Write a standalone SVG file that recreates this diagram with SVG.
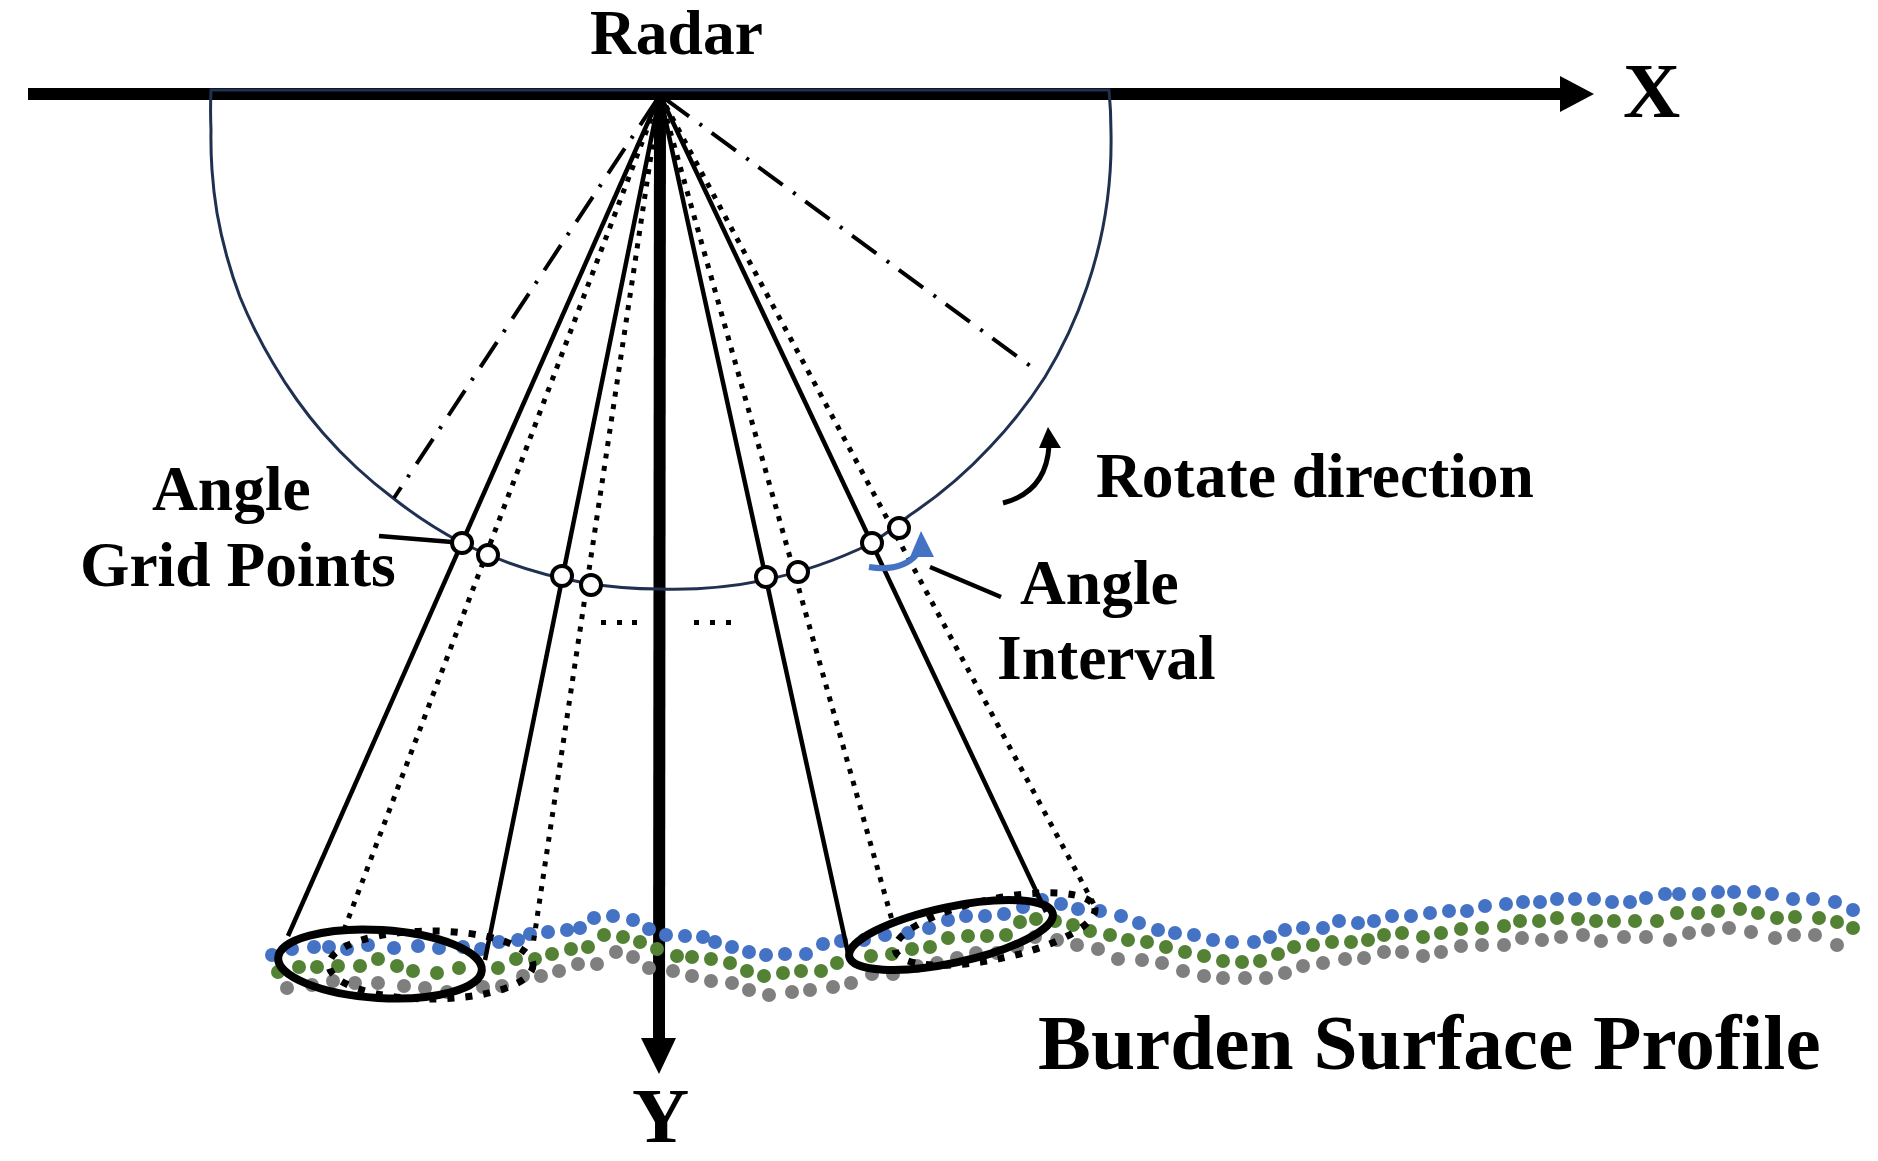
<svg xmlns="http://www.w3.org/2000/svg" width="1878" height="1161" viewBox="0 0 1878 1161">
<defs>
<style>
text{font-family:"Liberation Serif","Times New Roman",serif;font-weight:bold;fill:#000}
.m{font-size:63.5px}.b{font-size:79.3px}
.arc{fill:none;stroke:#1f3050;stroke-width:3}
.axis{fill:none;stroke:#000;stroke-width:12}
.sol{fill:none;stroke:#000;stroke-width:4.5}
.dot{fill:none;stroke:#000;stroke-width:5;stroke-dasharray:5 7.5}
.dd{fill:none;stroke:#000;stroke-width:4;stroke-dasharray:30 13 3 12;stroke-dashoffset:52}
.ell{fill:none;stroke:#000;stroke-width:8}
.del{fill:none;stroke:#000;stroke-width:7;stroke-dasharray:7 11}
.gp{fill:#fff;stroke:#000;stroke-width:4}
.pts{fill:none;stroke-width:14;stroke-linecap:round}
</style>
</defs>
<rect width="1878" height="1161" fill="#fff"/>
<g id="connectors">
<path id="axis-x" class="axis" d="M28 94H1562"/>
<polygon points="1560,76 1594,94 1560,112" fill="#000"/>
<path id="axis-y" class="axis" d="M660 95L659 1042"/>
<polygon points="641,1038 676,1038 659,1074" fill="#000"/>
<path id="sweep-arc" class="arc" d="M1109 90H211A450 450 0 0 0 211 130A450 450 0 0 0 212 170A450 450 0 0 0 217 213A450 450 0 0 0 227 257A450 450 0 0 0 240 297A450 450 0 0 0 255 330A450 450 0 0 0 273 363A450 450 0 0 0 297 400A450 450 0 0 0 323 433A450 450 0 0 0 357 468A450 450 0 0 0 393 498A450 450 0 0 0 462 543A450 450 0 0 0 660 589A450 450 0 0 0 872 543A450 450 0 0 0 910 515A450 450 0 0 0 990 447A450 450 0 0 0 1045 377A450 450 0 0 0 1087 287A450 450 0 0 0 1111 133A450 450 0 0 0 1109 90Z"/>
<path class="dd" d="M660 95L394 498"/>
<path class="dd" d="M660 95L1033 368"/>
</g>
<g id="burden-surface-profile">
<path class="pts" stroke="#4472c4" d="M272 955h0M292 949h0M314 947h0M329 947h0M347 949h0M368 945h0M394 948h0M418 946h0M439 948h0M463 947h0M481 949h0M499 942h0M518 940h0M530 934h0M548 932h0M567 930h0M580 928h0M594 918h0M613 916h0M633 920h0M649 929h0M666 935h0M685 936h0M703 937h0M715 942h0M732 947h0M749 952h0M766 955h0M785 954h0M806 954h0M823 944h0M841 941h0M864 940h0M885 935h0M908 933h0M929 928h0M948 920h0M966 916h0M985 916h0M1004 914h0M1023 907h0M1042 900h0M1061 904h0M1078 909h0M1100 911h0M1121 916h0M1139 923h0M1158 930h0M1175 933h0M1194 935h0M1213 940h0M1232 942h0M1254 942h0M1270 937h0M1285 930h0M1303 928h0M1323 928h0M1339 921h0M1358 923h0M1374 921h0M1392 916h0M1411 916h0M1430 913h0M1449 911h0M1467 911h0M1485 906h0M1506 904h0M1523 902h0M1540 902h0M1557 899h0M1575 899h0M1594 899h0M1612 902h0M1630 902h0M1646 898h0M1665 894h0M1679 894h0M1699 894h0M1718 892h0M1734 892h0M1754 892h0M1772 894h0M1793 899h0M1813 899h0M1835 902h0M1853 910h0"/>
<path class="pts" stroke="#7f7f7f" d="M287 988h0M312 985h0M333 981h0M355 983h0M378 983h0M404 986h0M425 988h0M447 992h0M483 987h0M502 986h0M523 976h0M541 976h0M559 971h0M578 964h0M597 964h0M616 952h0M633 957h0M649 968h0M673 971h0M692 976h0M711 981h0M732 983h0M749 990h0M769 995h0M792 992h0M810 990h0M833 987h0M851 983h0M872 974h0M893 974h0M917 966h0M937 963h0M957 958h0M976 953h0M997 953h0M1017 947h0M1035 937h0M1057 940h0M1077 945h0M1098 949h0M1118 959h0M1142 960h0M1162 963h0M1183 971h0M1204 976h0M1223 978h0M1245 978h0M1266 978h0M1285 973h0M1303 966h0M1323 963h0M1345 959h0M1364 958h0M1384 952h0M1402 952h0M1423 956h0M1441 952h0M1461 946h0M1482 945h0M1504 945h0M1522 938h0M1542 940h0M1561 937h0M1583 935h0M1601 941h0M1624 937h0M1646 937h0M1670 940h0M1689 933h0M1708 930h0M1729 928h0M1751 932h0M1775 938h0M1794 935h0M1815 935h0M1837 945h0"/>
<path class="pts" stroke="#548235" d="M278 972h0M299 967h0M317 967h0M338 966h0M360 966h0M378 959h0M397 966h0M413 971h0M437 973h0M459 968h0M498 968h0M516 959h0M535 959h0M552 954h0M571 949h0M588 947h0M604 935h0M623 937h0M640 942h0M657 949h0M677 956h0M692 957h0M711 959h0M730 963h0M747 971h0M764 976h0M783 973h0M801 971h0M821 971h0M837 963h0M871 956h0M892 954h0M912 949h0M930 947h0M948 938h0M968 936h0M987 936h0M1006 935h0M1020 922h0M1036 919h0M1055 921h0M1073 925h0M1090 931h0M1110 935h0M1128 940h0M1147 942h0M1166 947h0M1185 952h0M1204 956h0M1223 961h0M1242 962h0M1260 961h0M1278 954h0M1294 947h0M1313 945h0M1332 942h0M1351 942h0M1368 940h0M1384 935h0M1402 933h0M1423 937h0M1441 933h0M1461 929h0M1482 928h0M1504 926h0M1520 921h0M1539 921h0M1557 918h0M1578 919h0M1596 921h0M1614 921h0M1635 921h0M1657 921h0M1677 913h0M1698 913h0M1718 911h0M1740 909h0M1758 913h0M1777 918h0M1795 917h0M1819 918h0M1837 922h0M1853 928h0"/>
</g>
<g id="beams">
<path class="sol" d="M660 95L288 936"/>
<path class="sol" d="M660 95L485 960"/>
<path class="sol" d="M660 95L848 953"/>
<path class="sol" d="M660 95L1046 912"/>
<path class="dot" d="M660 95L344 930"/>
<path class="dot" d="M660 95L533 945"/>
<path class="dot" d="M660 95L892 920"/>
<path class="dot" d="M660 95L1097 910"/>
<ellipse class="del" cx="431" cy="965" rx="102" ry="34"/>
<ellipse class="del" cx="995" cy="929" rx="102" ry="30" transform="rotate(-12 995 929)"/>
<ellipse class="ell" cx="380" cy="964" rx="102" ry="34" transform="rotate(3.5 380 964)"/>
<ellipse class="ell" cx="951" cy="935" rx="104" ry="28" transform="rotate(-12 951 935)"/>
</g>
<g id="grid-points">
<circle class="gp" cx="462" cy="543" r="10"/>
<circle class="gp" cx="488" cy="555" r="10"/>
<circle class="gp" cx="562" cy="576" r="10"/>
<circle class="gp" cx="591" cy="585" r="10"/>
<circle class="gp" cx="766" cy="577" r="10"/>
<circle class="gp" cx="798" cy="572" r="10"/>
<circle class="gp" cx="872" cy="543" r="10"/>
<circle class="gp" cx="899" cy="528" r="10"/>
</g>
<g id="ellipsis-left" fill="#000"><rect x="601" y="620" width="5" height="5"/><rect x="617" y="620" width="5" height="5"/><rect x="632" y="620" width="5" height="5"/></g>
<g id="ellipsis-right" fill="#000"><rect x="694" y="620" width="5" height="5"/><rect x="710" y="620" width="5" height="5"/><rect x="726" y="620" width="5" height="5"/></g>
<g id="leaders">
<path class="sol" d="M379 536L452 542"/>
<path class="sol" d="M930 567L1001 597"/>
</g>
<g id="rotate-arrow">
<path d="M1003 503C1030 496 1047 478 1049 446" fill="none" stroke="#000" stroke-width="5"/>
<polygon points="1048,427 1061,448 1039,448" fill="#000"/>
</g>
<g id="interval-arrow">
<path d="M869 567C888 570 906 567 917 554" fill="none" stroke="#4472c4" stroke-width="6"/>
<polygon points="921,531 934,557 910,557" fill="#4472c4"/>
</g>
<g id="labels">
<text id="label-radar" class="m" x="590" y="54">Radar</text>
<text id="label-x" class="b" x="1623" y="117">X</text>
<text id="label-y" class="b" x="632" y="1142">Y</text>
<text id="label-rotate" class="m" x="1096" y="497">Rotate direction</text>
<text id="label-angle-left" class="m" x="152" y="510">Angle</text>
<text id="label-grid-points" class="m" x="80" y="586">Grid Points</text>
<text id="label-angle-right" class="m" x="1020" y="604">Angle</text>
<text id="label-interval" class="m" x="997" y="679">Interval</text>
<text id="label-profile" class="b" x="1038" y="1069">Burden Surface Profile</text>
</g>
</svg>
